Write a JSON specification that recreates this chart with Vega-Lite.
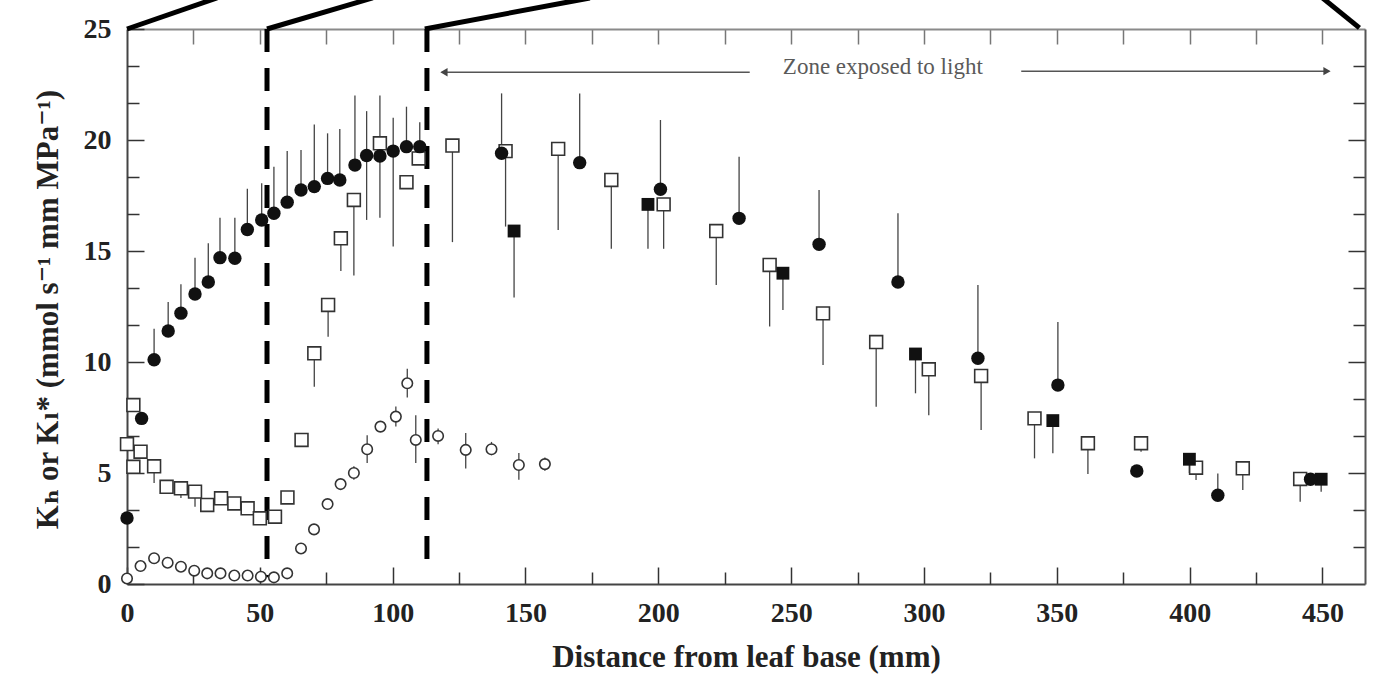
{
  "$schema": "https://vega.github.io/schema/vega-lite/v6.json",
  "width": 1238,
  "height": 555,
  "autosize": {"type": "none"},
  "padding": {"left": 127, "top": 29, "right": 10, "bottom": 98},
  "background": "white",
  "config": {
    "view": {"stroke": null},
    "axis": {
      "grid": false,
      "labelFont": "Liberation Serif, DejaVu Serif, serif",
      "labelFontSize": 28,
      "labelFontWeight": "bold",
      "labelColor": "#222222",
      "labelFlush": false,
      "labelOverlap": false,
      "labelBound": false,
      "tickColor": "#333333",
      "tickWidth": 1.5,
      "domainColor": "#444444",
      "domainWidth": 2,
      "titleFont": "Liberation Serif, DejaVu Serif, serif",
      "titleFontWeight": "bold",
      "titleColor": "#222222",
      "titleFontSize": 31
    }
  },
  "datasets": {
    "connectors": [
      {"x": 0, "y": 25, "x2": 33.9, "y2": 26.4},
      {"x": 52.7, "y": 25, "x2": 92.5, "y2": 26.4},
      {"x": 112.1, "y": 25, "x2": 174.2, "y2": 26.4},
      {"x": 463.9, "y": 25.05, "x2": 450, "y2": 26.4}
    ],
    "zones": [
      {"x": 52.7, "ytop": 25, "ybot": 0.3},
      {"x": 112.9, "ytop": 25, "ybot": 0.4}
    ],
    "arrows": [
      {"x": 118.5, "x2": 234.4, "y": 23.05},
      {"x": 336.6, "x2": 452.5, "y": 23.1}
    ],
    "heads": [
      {"x": 119.3, "y": 23.05, "dir": "left"},
      {"x": 451.7, "y": 23.1, "dir": "right"}
    ],
    "label": [
      {"x": 284.5, "y": 23.3, "text": "Zone exposed to light"}
    ],
    "pts": [
      {"s": "fc", "x": 0, "y": 2.97},
      {"s": "fc", "x": 5.5, "y": 7.46},
      {"s": "fc", "x": 10.2, "y": 10.1, "lo": 10.1, "hi": 11.5},
      {"s": "fc", "x": 15.5, "y": 11.4, "lo": 11.4, "hi": 12.7},
      {"s": "fc", "x": 20.3, "y": 12.2, "lo": 12.2, "hi": 13.5},
      {"s": "fc", "x": 25.6, "y": 13.06, "lo": 13.06, "hi": 14.7},
      {"s": "fc", "x": 30.6, "y": 13.6, "lo": 13.6, "hi": 15.35},
      {"s": "fc", "x": 35, "y": 14.7, "lo": 14.7, "hi": 16.5},
      {"s": "fc", "x": 40.6, "y": 14.67, "lo": 14.67, "hi": 16.5},
      {"s": "fc", "x": 45.3, "y": 15.97, "lo": 15.97, "hi": 17.8},
      {"s": "fc", "x": 50.7, "y": 16.4, "lo": 16.4, "hi": 18.05},
      {"s": "fc", "x": 55.3, "y": 16.7, "lo": 16.7, "hi": 18.8},
      {"s": "fc", "x": 60.3, "y": 17.2, "lo": 17.2, "hi": 19.5},
      {"s": "fc", "x": 65.5, "y": 17.75, "lo": 17.75, "hi": 19.55},
      {"s": "fc", "x": 70.5, "y": 17.9, "lo": 17.9, "hi": 20.7},
      {"s": "fc", "x": 75.5, "y": 18.27, "lo": 18.27, "hi": 20.3},
      {"s": "fc", "x": 80.1, "y": 18.2, "lo": 18.2, "hi": 20.5},
      {"s": "fc", "x": 85.8, "y": 18.87, "lo": 18.87, "hi": 22.0},
      {"s": "fc", "x": 90.2, "y": 19.3, "lo": 16.4, "hi": 21.3},
      {"s": "fc", "x": 95.2, "y": 19.28, "lo": 19.28, "hi": 22.0},
      {"s": "fc", "x": 100.2, "y": 19.5, "lo": 15.2, "hi": 21.0},
      {"s": "fc", "x": 105.2, "y": 19.7, "lo": 19.7, "hi": 21.5},
      {"s": "fc", "x": 110.2, "y": 19.7, "lo": 19.7, "hi": 20.8},
      {"s": "fc", "x": 141, "y": 19.4, "lo": 19.4, "hi": 22.1},
      {"s": "fc", "x": 170.4, "y": 18.98, "lo": 18.98, "hi": 22.1},
      {"s": "fc", "x": 200.8, "y": 17.78, "lo": 17.78, "hi": 20.9},
      {"s": "fc", "x": 230.4, "y": 16.47, "lo": 16.47, "hi": 19.25},
      {"s": "fc", "x": 260.5, "y": 15.3, "lo": 15.3, "hi": 17.75},
      {"s": "fc", "x": 290.2, "y": 13.6, "lo": 13.6, "hi": 16.7},
      {"s": "fc", "x": 320.3, "y": 10.17, "lo": 10.17, "hi": 13.47},
      {"s": "fc", "x": 350.4, "y": 8.96, "lo": 8.96, "hi": 11.8},
      {"s": "fc", "x": 380.1, "y": 5.09},
      {"s": "fc", "x": 410.6, "y": 4.0, "lo": 4.0, "hi": 4.98},
      {"s": "fc", "x": 445.5, "y": 4.72},

      {"s": "os", "x": 0, "y": 6.3},
      {"s": "os", "x": 2.4, "y": 8.06},
      {"s": "os", "x": 2.4, "y": 5.28},
      {"s": "os", "x": 5.1, "y": 5.96},
      {"s": "os", "x": 10.2, "y": 5.3, "lo": 4.55, "hi": 5.3},
      {"s": "os", "x": 14.9, "y": 4.38},
      {"s": "os", "x": 20.3, "y": 4.31, "lo": 3.87, "hi": 4.31},
      {"s": "os", "x": 25.6, "y": 4.16, "lo": 3.48, "hi": 4.16},
      {"s": "os", "x": 30.2, "y": 3.56},
      {"s": "os", "x": 35.4, "y": 3.86},
      {"s": "os", "x": 40.4, "y": 3.63},
      {"s": "os", "x": 45.4, "y": 3.41},
      {"s": "os", "x": 50, "y": 2.96},
      {"s": "os", "x": 55.7, "y": 3.03},
      {"s": "os", "x": 60.4, "y": 3.9},
      {"s": "os", "x": 65.7, "y": 6.49},
      {"s": "os", "x": 70.5, "y": 10.39, "lo": 8.89, "hi": 10.39},
      {"s": "os", "x": 75.7, "y": 12.57, "lo": 11.14, "hi": 12.57},
      {"s": "os", "x": 80.5, "y": 15.57, "lo": 14.1, "hi": 15.57},
      {"s": "os", "x": 85.4, "y": 17.3, "lo": 13.9, "hi": 17.3},
      {"s": "os", "x": 95.2, "y": 19.85, "lo": 16.5, "hi": 19.85},
      {"s": "os", "x": 105.2, "y": 18.1},
      {"s": "os", "x": 109.8, "y": 19.17},
      {"s": "os", "x": 122.5, "y": 19.75, "lo": 15.4, "hi": 19.75},
      {"s": "os", "x": 142.5, "y": 19.5, "lo": 16.1, "hi": 19.5},
      {"s": "os", "x": 162.3, "y": 19.6, "lo": 15.95, "hi": 19.6},
      {"s": "os", "x": 182.3, "y": 18.2, "lo": 15.1, "hi": 18.2},
      {"s": "os", "x": 202, "y": 17.1, "lo": 15.1, "hi": 17.1},
      {"s": "os", "x": 221.8, "y": 15.9, "lo": 13.47, "hi": 15.9},
      {"s": "os", "x": 241.9, "y": 14.37, "lo": 11.6, "hi": 14.37},
      {"s": "os", "x": 262, "y": 12.19, "lo": 9.86, "hi": 12.19},
      {"s": "os", "x": 282, "y": 10.9, "lo": 7.98, "hi": 10.9},
      {"s": "os", "x": 301.8, "y": 9.67, "lo": 7.6, "hi": 9.67},
      {"s": "os", "x": 321.5, "y": 9.37, "lo": 6.94, "hi": 9.37},
      {"s": "os", "x": 341.6, "y": 7.46, "lo": 5.66, "hi": 7.46},
      {"s": "os", "x": 361.7, "y": 6.34, "lo": 4.95, "hi": 6.34},
      {"s": "os", "x": 381.7, "y": 6.34, "lo": 5.96, "hi": 6.34},
      {"s": "os", "x": 402.4, "y": 5.24, "lo": 4.68, "hi": 5.24},
      {"s": "os", "x": 420, "y": 5.21, "lo": 4.23, "hi": 5.21},
      {"s": "os", "x": 441.6, "y": 4.73, "lo": 3.71, "hi": 4.73},

      {"s": "fs", "x": 145.7, "y": 15.9, "lo": 12.9, "hi": 15.9},
      {"s": "fs", "x": 196.1, "y": 17.1, "lo": 15.1, "hi": 17.1},
      {"s": "fs", "x": 246.9, "y": 14.0, "lo": 12.34, "hi": 14.0},
      {"s": "fs", "x": 296.8, "y": 10.36, "lo": 8.59, "hi": 10.36},
      {"s": "fs", "x": 348.5, "y": 7.36, "lo": 5.89, "hi": 7.36},
      {"s": "fs", "x": 399.9, "y": 5.62, "lo": 5.0, "hi": 5.62},
      {"s": "fs", "x": 449.5, "y": 4.72, "lo": 4.15, "hi": 4.72},

      {"s": "oc", "x": 0, "y": 0.25},
      {"s": "oc", "x": 5.1, "y": 0.81},
      {"s": "oc", "x": 10.2, "y": 1.16},
      {"s": "oc", "x": 15.3, "y": 0.96},
      {"s": "oc", "x": 20.3, "y": 0.78},
      {"s": "oc", "x": 25.3, "y": 0.6},
      {"s": "oc", "x": 30.2, "y": 0.48},
      {"s": "oc", "x": 35.2, "y": 0.48},
      {"s": "oc", "x": 40.4, "y": 0.38},
      {"s": "oc", "x": 45.4, "y": 0.38},
      {"s": "oc", "x": 50.4, "y": 0.33},
      {"s": "oc", "x": 55.3, "y": 0.3},
      {"s": "oc", "x": 60.3, "y": 0.48},
      {"s": "oc", "x": 65.5, "y": 1.6},
      {"s": "oc", "x": 70.4, "y": 2.46},
      {"s": "oc", "x": 75.5, "y": 3.6},
      {"s": "oc", "x": 80.4, "y": 4.5},
      {"s": "oc", "x": 85.4, "y": 5.0, "lo": 4.7, "hi": 5.3},
      {"s": "oc", "x": 90.4, "y": 6.07, "lo": 5.45, "hi": 6.7},
      {"s": "oc", "x": 95.4, "y": 7.09},
      {"s": "oc", "x": 101.2, "y": 7.54, "lo": 7.1, "hi": 8.0},
      {"s": "oc", "x": 105.5, "y": 9.04, "lo": 8.4, "hi": 9.7},
      {"s": "oc", "x": 108.7, "y": 6.49, "lo": 5.45, "hi": 7.6},
      {"s": "oc", "x": 117.1, "y": 6.67, "lo": 6.3, "hi": 7.0},
      {"s": "oc", "x": 127.5, "y": 6.04, "lo": 5.2, "hi": 6.8},
      {"s": "oc", "x": 137.2, "y": 6.07, "lo": 5.8, "hi": 6.4},
      {"s": "oc", "x": 147.5, "y": 5.36, "lo": 4.7, "hi": 5.9},
      {"s": "oc", "x": 157.3, "y": 5.4, "lo": 5.1, "hi": 5.7}
    ]
  },
  "layer": [
    {
      "data": {"name": "connectors"},
      "mark": {"type": "rule", "color": "#000000", "strokeWidth": 5, "clip": false},
      "encoding": {
        "x": {"field": "x", "type": "quantitative", "scale": {"domain": [0, 466], "nice": false, "zero": false},
          "axis": {"orient": "bottom", "values": [0, 50, 100, 150, 200, 250, 300, 350, 400, 450], "format": "d",
            "tickSize": -17, "labelPadding": 32, "domain": true,
            "title": "Distance from leaf base (mm)", "titleY": 82, "titleBaseline": "alphabetic"}},
        "x2": {"field": "x2"},
        "y": {"field": "y", "type": "quantitative", "scale": {"domain": [0, 25], "nice": false, "zero": false},
          "axis": {"orient": "left", "values": [0, 5, 10, 15, 20, 25], "format": "d",
            "tickSize": -17, "labelPadding": 33, "domain": true, "labelBaseline": "middle",
            "title": "Kₕ or Kₗ* (mmol s⁻¹ mm MPa⁻¹)", "titleX": -70, "titleY": 280,
            "titleAngle": -90, "titleAlign": "center", "titleBaseline": "alphabetic"}},
        "y2": {"field": "y2"}
      }
    },
    {
      "data": {"name": "zones"},
      "mark": {"type": "rule", "color": "#000000", "strokeWidth": 5, "strokeDash": [23, 16]},
      "encoding": {
        "x": {"field": "x", "type": "quantitative", "scale": {"domain": [0, 466], "nice": false, "zero": false},
          "axis": {"orient": "bottom", "values": [25, 75, 125, 175, 225, 275, 325, 375, 425], "tickSize": -12,
            "labels": false, "domain": false, "title": null}},
        "y": {"field": "ytop", "type": "quantitative", "scale": {"domain": [0, 25], "nice": false, "zero": false},
          "axis": {"orient": "left", "values": [1.6667, 3.3333, 6.6667, 8.3333, 11.6667, 13.3333, 16.6667, 18.3333, 21.6667, 23.3333],
            "tickSize": -12, "labels": false, "domain": false, "title": null}},
        "y2": {"field": "ybot"}
      }
    },
    {
      "data": {"name": "arrows"},
      "mark": {"type": "rule", "color": "#555555", "strokeWidth": 1.5},
      "encoding": {
        "x": {"field": "x", "type": "quantitative", "scale": {"domain": [0, 466], "nice": false, "zero": false},
          "axis": {"orient": "top", "values": [25, 50, 75, 100, 125, 150, 175, 200, 225, 250, 275, 300, 325, 350, 375, 400, 425, 450],
            "tickSize": -15, "labels": false, "domain": true, "domainColor": "#8a8a8a", "tickColor": "#777777", "title": null}},
        "x2": {"field": "x2"},
        "y": {"field": "y", "type": "quantitative", "scale": {"domain": [0, 25], "nice": false, "zero": false},
          "axis": {"orient": "right", "values": [1.6667, 3.3333, 6.6667, 8.3333, 11.6667, 13.3333, 16.6667, 18.3333, 21.6667, 23.3333],
            "tickSize": -12, "labels": false, "domain": true, "domainColor": "#555555", "title": null}}
      }
    },
    {
      "data": {"name": "heads"},
      "mark": {"type": "point", "filled": true, "color": "#444444", "size": 70, "opacity": 1},
      "encoding": {
        "x": {"field": "x", "type": "quantitative", "scale": {"domain": [0, 466], "nice": false, "zero": false}, "axis": null},
        "y": {"field": "y", "type": "quantitative", "scale": {"domain": [0, 25], "nice": false, "zero": false},
          "axis": {"orient": "right", "values": [5, 10, 15, 20], "tickSize": -17, "labels": false, "domain": false, "title": null}},
        "shape": {"field": "dir", "type": "nominal", "scale": {"domain": ["left", "right"], "range": ["triangle-left", "triangle-right"]}, "legend": null}
      }
    },
    {
      "data": {"name": "label"},
      "mark": {"type": "text", "font": "Liberation Serif, DejaVu Serif, serif", "fontSize": 23, "color": "#5a5a5a", "align": "center", "baseline": "middle"},
      "encoding": {
        "x": {"field": "x", "type": "quantitative", "scale": {"domain": [0, 466], "nice": false, "zero": false}, "axis": null},
        "y": {"field": "y", "type": "quantitative", "scale": {"domain": [0, 25], "nice": false, "zero": false}, "axis": null},
        "text": {"field": "text"}
      }
    },
    {
      "data": {"name": "pts"},
      "transform": [{"filter": "isValid(datum.lo)"}],
      "mark": {"type": "rule", "color": "#444444", "strokeWidth": 1.3},
      "encoding": {
        "x": {"field": "x", "type": "quantitative", "scale": {"domain": [0, 466], "nice": false, "zero": false}, "axis": null},
        "y": {"field": "lo", "type": "quantitative", "scale": {"domain": [0, 25], "nice": false, "zero": false}, "axis": null},
        "y2": {"field": "hi"}
      }
    },
    {
      "data": {"name": "pts"},
      "transform": [{"filter": "datum.s === 'oc'"}],
      "mark": {"type": "point", "shape": "circle", "filled": true, "fill": "#ffffff", "stroke": "#333333", "strokeWidth": 1.6, "size": 110, "opacity": 1},
      "encoding": {
        "x": {"field": "x", "type": "quantitative", "scale": {"domain": [0, 466], "nice": false, "zero": false}, "axis": null},
        "y": {"field": "y", "type": "quantitative", "scale": {"domain": [0, 25], "nice": false, "zero": false}, "axis": null}
      }
    },
    {
      "data": {"name": "pts"},
      "transform": [{"filter": "datum.s === 'os'"}],
      "mark": {"type": "point", "shape": "square", "filled": true, "fill": "#ffffff", "stroke": "#333333", "strokeWidth": 1.6, "size": 165, "opacity": 1},
      "encoding": {
        "x": {"field": "x", "type": "quantitative", "scale": {"domain": [0, 466], "nice": false, "zero": false}, "axis": null},
        "y": {"field": "y", "type": "quantitative", "scale": {"domain": [0, 25], "nice": false, "zero": false}, "axis": null}
      }
    },
    {
      "data": {"name": "pts"},
      "transform": [{"filter": "datum.s === 'fs'"}],
      "mark": {"type": "point", "shape": "square", "filled": true, "color": "#111111", "size": 165, "opacity": 1},
      "encoding": {
        "x": {"field": "x", "type": "quantitative", "scale": {"domain": [0, 466], "nice": false, "zero": false}, "axis": null},
        "y": {"field": "y", "type": "quantitative", "scale": {"domain": [0, 25], "nice": false, "zero": false}, "axis": null}
      }
    },
    {
      "data": {"name": "pts"},
      "transform": [{"filter": "datum.s === 'fc'"}],
      "mark": {"type": "point", "shape": "circle", "filled": true, "color": "#111111", "size": 180, "opacity": 1},
      "encoding": {
        "x": {"field": "x", "type": "quantitative", "scale": {"domain": [0, 466], "nice": false, "zero": false}, "axis": null},
        "y": {"field": "y", "type": "quantitative", "scale": {"domain": [0, 25], "nice": false, "zero": false}, "axis": null}
      }
    }
  ],
  "resolve": {"axis": {"x": "independent", "y": "independent"}}
}
